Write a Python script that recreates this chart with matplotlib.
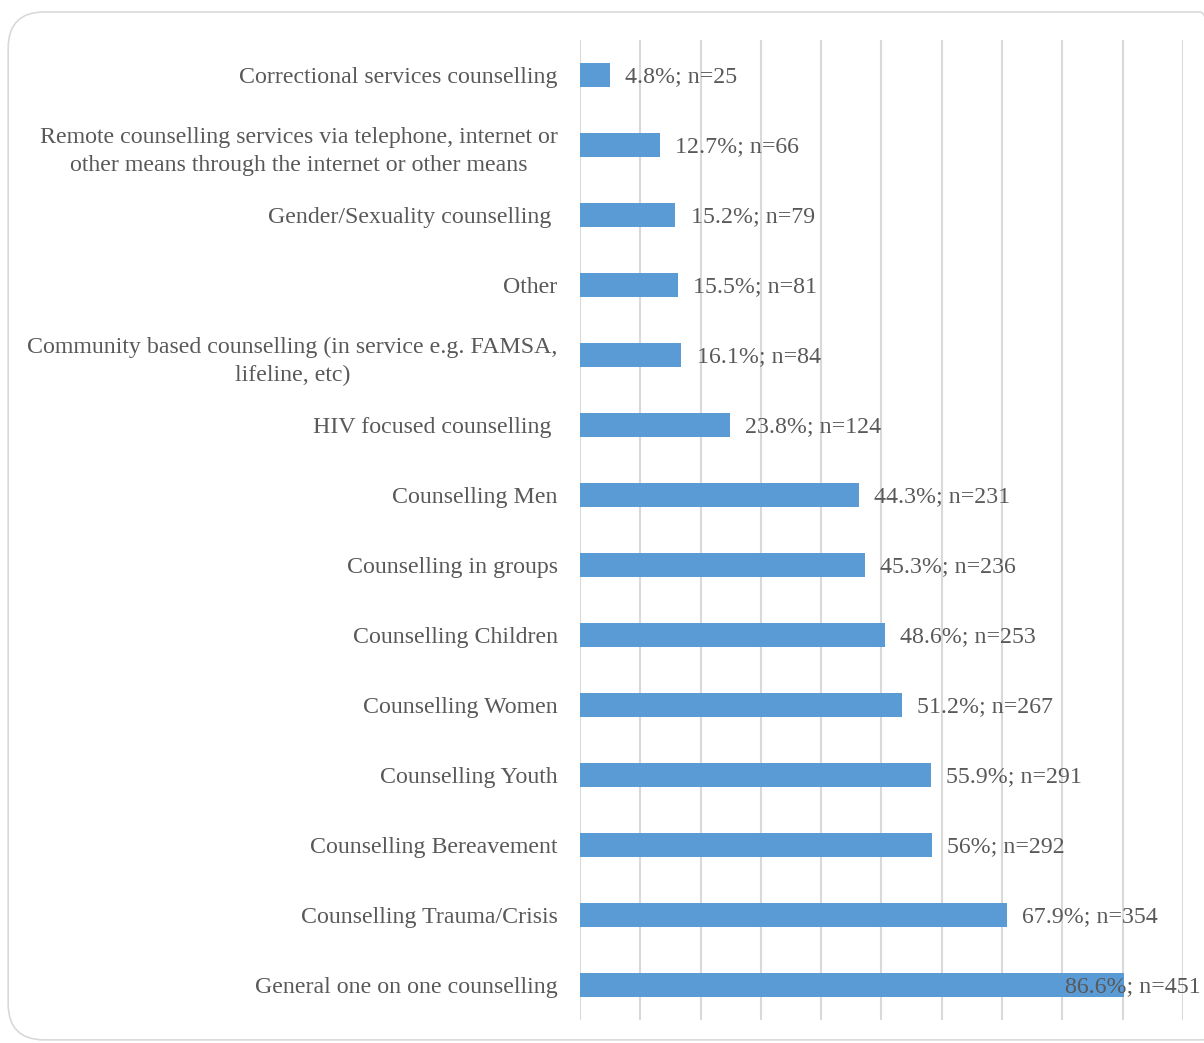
import matplotlib.pyplot as plt
from matplotlib.patches import FancyBboxPatch

# counselling types, top to bottom
categories = [
    "Correctional services counselling",
    "Remote counselling services via telephone, internet or\nother means through the internet or other means",
    "Gender/Sexuality counselling ",
    "Other",
    "Community based counselling (in service e.g. FAMSA,\nlifeline, etc)",
    "HIV focused counselling ",
    "Counselling Men",
    "Counselling in groups",
    "Counselling Children",
    "Counselling Women",
    "Counselling Youth",
    "Counselling Bereavement",
    "Counselling Trauma/Crisis",
    "General one on one counselling",
]
counts = [25, 66, 79, 81, 84, 124, 231, 236, 253, 267, 291, 292, 354, 451]
percents = ["4.8", "12.7", "15.2", "15.5", "16.1", "23.8", "44.3", "45.3",
            "48.6", "51.2", "55.9", "56", "67.9", "86.6"]

BAR = "#5B9BD5"
GRID = "#D9D9D9"
TEXT = "#595959"
FS = 17.2

plt.rcParams['font.family'] = ['Liberation Serif', 'DejaVu Serif']

fig = plt.figure(figsize=(12.04, 10.43), dpi=100)
ax = fig.add_axes([0.4817, 0.022, 0.5008, 0.9395])

ypos = list(range(len(categories)))
ax.barh(ypos, counts, height=0.35, color=BAR, zorder=2)

labels = []
for y, n, p in zip(ypos, counts, percents):
    t = ax.annotate(f"{p}%; n={n}", xy=(n, y), xytext=(11, -1),
                    textcoords="offset points", ha="left", va="center",
                    fontsize=FS, color=TEXT, zorder=3)
    labels.append(t)

ax.set_xlim(0, 500)
ax.set_ylim(len(categories) - 0.5, -0.5)
ax.set_xticks(range(0, 501, 50))
ax.set_xticklabels([])
ax.grid(axis="x", color=GRID, linewidth=1.5, zorder=0)
ax.tick_params(axis="x", length=0)
ax.tick_params(axis="y", length=0, pad=16)
ax.set_yticks(ypos)
ax.set_yticklabels(categories, fontsize=FS, color=TEXT,
                   multialignment="center", linespacing=1.45)
for s in ax.spines.values():
    s.set_visible(False)

# pull labels that run past the right edge back inside the figure
fig.canvas.draw()
renderer = fig.canvas.get_renderer()
fig_w = fig.bbox.width
for t in labels:
    bb = t.get_window_extent(renderer)
    over = bb.x1 - (fig_w - 3)
    if over > 0:
        dx, dy = t.xyann
        t.xyann = (dx - over * 72 / fig.dpi, dy)

# rounded frame around the chart area
frame = FancyBboxPatch((0.0068, 0.003), 1.02, 0.9855,
                       boxstyle="round,pad=0,rounding_size=0.03",
                       transform=fig.transFigure, facecolor="none",
                       edgecolor=GRID, linewidth=1.2, zorder=0,
                       mutation_aspect=1204 / 1043)
fig.patches.append(frame)

fig.savefig("out.png", dpi=100)
